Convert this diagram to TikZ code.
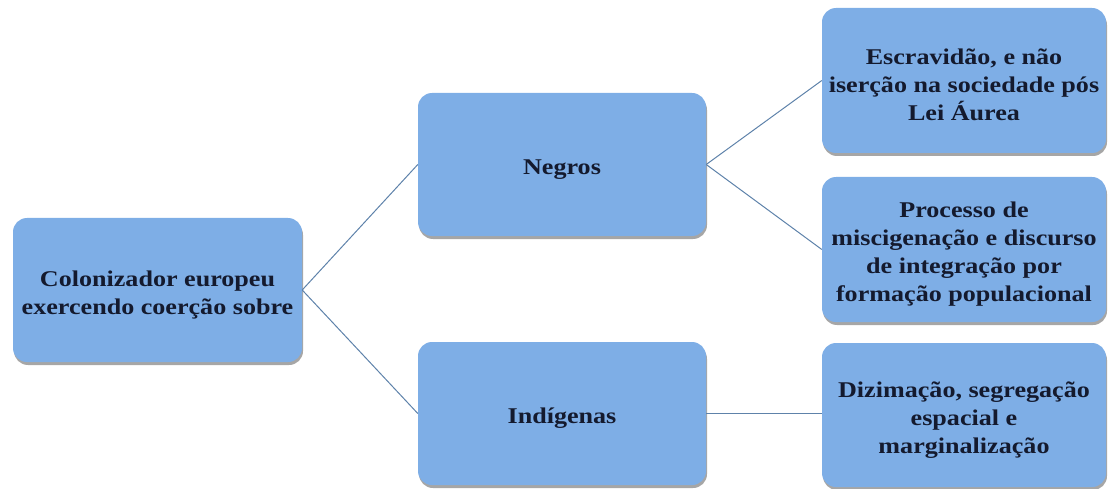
\documentclass[tikz,border=0pt]{standalone}
\usepackage{fontspec}
\setmainfont{Liberation Serif}[FakeStretch=1.16]
\usetikzlibrary{shadows}
\definecolor{boxfill}{HTML}{7EAEE6}
\definecolor{linkcol}{HTML}{5E82AA}
\definecolor{txtcol}{HTML}{141A2E}
\newcommand\tstrut{\rule{0pt}{25pt}}
\tikzset{
  box/.style={draw=none, fill=boxfill, rounded corners=14pt, align=center,
    font=\fontsize{22.5}{28}\selectfont\bfseries, text=txtcol, inner sep=2pt,
    drop shadow={shadow xshift=1pt, shadow yshift=-3pt, opacity=0.35, fill=black}},
  link/.style={draw=linkcol, line width=1pt}
}
\begin{document}
\begin{tikzpicture}[x=1pt, y=-1pt]
\useasboundingbox (0,0) rectangle (1108,489);
\node[box, minimum width=289pt, minimum height=144pt] (root) at (157.5,290) {\tstrut Colonizador europeu\\exercendo coerção sobre};
\node[box, minimum width=288pt, minimum height=143pt] (negros) at (562,164.5) {\tstrut Negros};
\node[box, minimum width=288pt, minimum height=143pt] (indig) at (562,413.5) {\tstrut Indígenas};
\node[box, minimum width=284pt, minimum height=145pt] (esc) at (964,80.5) {\tstrut Escravidão, e não\\iserção na sociedade pós\\Lei Áurea};
\node[box, minimum width=284pt, minimum height=145pt] (proc) at (964,249.5) {\tstrut Processo de\\miscigenação e discurso\\de integração por\\formação populacional};
\node[box, minimum width=284pt, minimum height=144pt] (diz) at (964,415) {\tstrut Dizimação, segregação\\espacial e\\marginalização};
\draw[link] (root.east) -- (negros.west);
\draw[link] (root.east) -- (indig.west);
\draw[link] (negros.east) -- (esc.west);
\draw[link] (negros.east) -- (proc.west);
\draw[link] (indig.east) -- (diz.west |- indig.east);
\end{tikzpicture}
\end{document}
